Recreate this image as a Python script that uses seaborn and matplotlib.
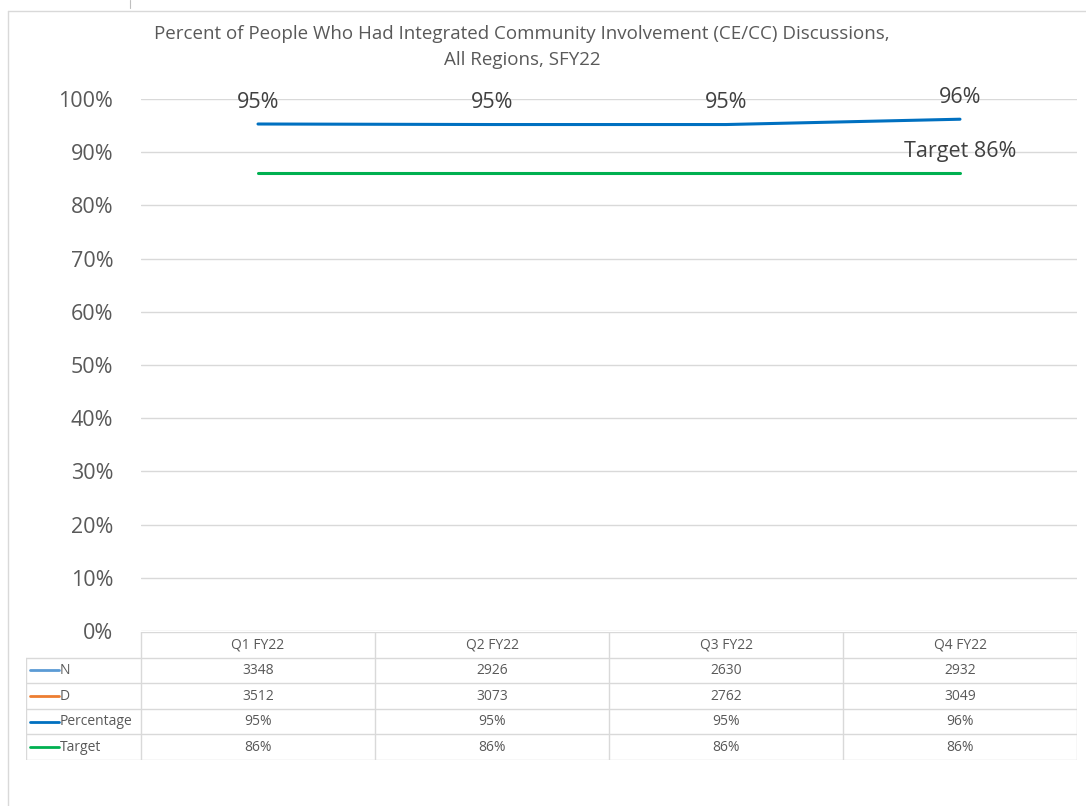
import matplotlib
matplotlib.use("Agg")
import matplotlib.pyplot as plt
from matplotlib.lines import Line2D
import seaborn as sns
import pandas as pd

# chart data
quarters = ["Q1 FY22", "Q2 FY22", "Q3 FY22", "Q4 FY22"]
n_vals = [3348, 2926, 2630, 2932]
d_vals = [3512, 3073, 2762, 3049]
pct_vals = [0.953, 0.952, 0.952, 0.962]
target_vals = [0.86, 0.86, 0.86, 0.86]
pct_labels = ["95%", "95%", "95%", "96%"]
target_labels = ["86%", "86%", "86%", "86%"]

C_N = "#5B9BD5"
C_D = "#ED7D31"
C_PCT = "#0070C0"
C_TGT = "#00B050"
GRAY = "#595959"
GRID = "#D9D9D9"

sns.set_style("white")
plt.rcParams["font.family"] = ["Open Sans", "DejaVu Sans"]

W, H = 1086, 806
fig = plt.figure(figsize=(W / 100, H / 100), dpi=100)

def px_box(x0, y0, x1, y1):
    # pixel box (top-left origin) -> figure fraction rect
    return [x0 / W, 1 - y1 / H, (x1 - x0) / W, (y1 - y0) / H]

# outer chart frame
fig.add_artist(Line2D([8 / W, 1], [1 - 11 / H, 1 - 11 / H], color=GRID, lw=1))
fig.add_artist(Line2D([8 / W, 8 / W], [0, 1 - 11 / H], color=GRID, lw=1))
fig.add_artist(Line2D([130 / W, 130 / W], [1 - 8 / H, 1], color="#BFBFBF", lw=0.8))

# main plot
ax = fig.add_axes(px_box(141, 99, 1077, 631))
df = pd.DataFrame({"q": range(len(quarters)), "pct": pct_vals, "tgt": target_vals})
sns.lineplot(data=df, x="q", y="pct", ax=ax, color=C_PCT, lw=2.2)
sns.lineplot(data=df, x="q", y="tgt", ax=ax, color=C_TGT, lw=2.2)
ax.set_xlim(-0.5, len(quarters) - 0.5)
ax.set_ylim(0, 1)
ax.set_yticks([i / 10 for i in range(11)])
ax.set_yticklabels([f"{i * 10}%" for i in range(11)], fontsize=15.5, color=GRAY)
ax.tick_params(axis="y", length=0, pad=20)
ax.set_xticks([])
ax.set_xlabel("")
ax.set_ylabel("")
ax.grid(axis="y", color=GRID, lw=1)
for s in ax.spines.values():
    s.set_visible(False)

for i, lab in enumerate(pct_labels):
    ax.annotate(lab, (i, pct_vals[i]), xytext=(0, 8), textcoords="offset points",
                ha="center", va="bottom", fontsize=15.5, color="#404040",
                annotation_clip=False)
ax.annotate("Target " + target_labels[-1], (len(quarters) - 1, target_vals[-1]),
            xytext=(0, 8), textcoords="offset points", ha="center", va="bottom",
            fontsize=15.5, color="#404040", annotation_clip=False)

fig.text(522 / W, 1 - 34 / H,
         "Percent of People Who Had Integrated Community Involvement (CE/CC) Discussions,",
         ha="center", va="center", fontsize=13.5, color=GRAY)
fig.text(522 / W, 1 - 60 / H, "All Regions, SFY22",
         ha="center", va="center", fontsize=13.5, color=GRAY)

# data table under the plot
unit = (1077 - 141) / len(quarters)
xleft = -0.5 - (141 - 26) / unit
tab = fig.add_axes(px_box(26, 632, 1077, 760))
tab.set_xlim(xleft, len(quarters) - 0.5)
tab.set_ylim(5, 0)
tab.axis("off")

nq = len(quarters)
tab.plot([-0.5, nq - 0.5], [0, 0], color=GRID, lw=1)
for r in range(1, 6):
    tab.plot([xleft, nq - 0.5], [r, r], color=GRID, lw=1)
for c in range(nq + 1):
    tab.plot([c - 0.5, c - 0.5], [0, 5], color=GRID, lw=1)
tab.plot([xleft, xleft], [1, 5], color=GRID, lw=1)

for i, q in enumerate(quarters):
    tab.text(i, 0.5, q, ha="center", va="center", fontsize=10, color=GRAY)

rows = [("N", C_N, [str(v) for v in n_vals]),
        ("D", C_D, [str(v) for v in d_vals]),
        ("Percentage", C_PCT, pct_labels),
        ("Target", C_TGT, target_labels)]
for r, (name, col, vals) in enumerate(rows, start=1):
    y = r + 0.5
    tab.plot([xleft + 4 / unit, xleft + 33 / unit], [y, y], color=col, lw=2)
    tab.text(xleft + 34 / unit, y, name, ha="left", va="center", fontsize=10, color=GRAY)
    for i, v in enumerate(vals):
        tab.text(i, y, v, ha="center", va="center", fontsize=10, color=GRAY)

fig.savefig("out.png", dpi=100)
